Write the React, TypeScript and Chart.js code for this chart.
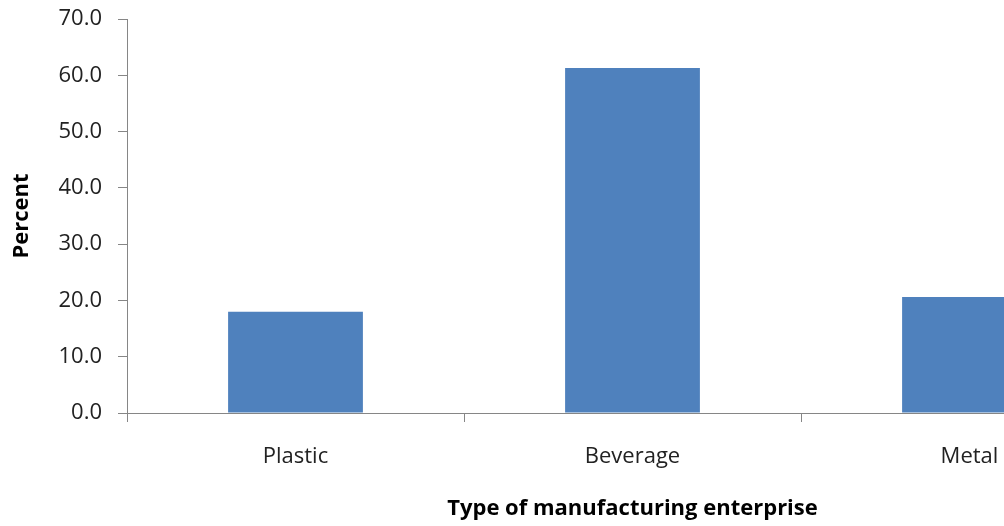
import React, { useEffect, useRef } from "react";
import { Chart, registerables } from "chart.js";

Chart.register(...registerables);

// Share of respondents by type of manufacturing enterprise (%)
const categories = ["Plastic", "Beverage", "Metal"];
const percentValues = [18.0, 61.3, 20.6];
const yTickMin = 0;
const yTickMax = 70;
const yTickStep = 10;

const AXIS_GREY = "#868686";
const BAR_BLUE = "#4F81BD";
const FONT = "'Open Sans', 'Liberation Sans', sans-serif";

export default function App() {
  const canvasRef = useRef<HTMLCanvasElement | null>(null);

  useEffect(() => {
    const canvas = canvasRef.current;
    if (!canvas) return;
    const chart = new Chart(canvas, {
      type: "bar",
      data: {
        labels: categories,
        datasets: [
          {
            label: "Percent",
            data: percentValues,
            backgroundColor: BAR_BLUE,
            borderWidth: 0,
            barPercentage: 0.4,
            categoryPercentage: 1.0,
          },
        ],
      },
      options: {
        animation: false,
        responsive: true,
        maintainAspectRatio: false,
        layout: { padding: { top: 0, left: 5, right: 2, bottom: 0 } },
        plugins: {
          legend: { display: false },
          tooltip: { enabled: false },
        },
        scales: {
          x: {
            offset: true,
            grid: {
              offset: true,
              drawOnChartArea: false,
              drawTicks: true,
              tickLength: 9,
              color: AXIS_GREY,
            },
            border: { color: AXIS_GREY, width: 1 },
            ticks: {
              color: "#222",
              font: { family: FONT, size: 22 },
              padding: 22,
              maxRotation: 0,
            },
            title: {
              display: true,
              text: "Type of manufacturing enterprise",
              color: "#000",
              font: { family: FONT, size: 22, weight: "bold" },
              padding: { top: 4, bottom: 4 },
            },
            afterFit: (scale: any) => {
              scale.height = 113;
            },
          },
          y: {
            min: yTickMin,
            max: yTickMax,
            grid: {
              drawOnChartArea: false,
              drawTicks: true,
              tickLength: 9,
              color: AXIS_GREY,
            },
            border: { color: AXIS_GREY, width: 1 },
            ticks: {
              stepSize: yTickStep,
              color: "#222",
              font: { family: FONT, size: 22 },
              padding: 16,
              callback: (v: any) => Number(v).toFixed(1),
            },
            title: {
              display: true,
              text: "Percent",
              color: "#000",
              font: { family: FONT, size: 22, weight: "bold" },
              padding: { top: 4, bottom: 4 },
            },
            afterFit: (scale: any) => {
              scale.width = 122;
              // keep the plot top where the 70.0 tick sits
              scale.paddingTop = 19;
            },
          },
        },
      },
    });
    return () => chart.destroy();
  }, []);

  return (
    <div
      style={{
        position: "absolute",
        left: 0,
        top: 0,
        width: 1004,
        height: 526,
        overflow: "hidden",
        background: "#fff",
      }}
    >
      <div style={{ position: "relative", width: 1140, height: 526 }}>
        <canvas ref={canvasRef} />
      </div>
    </div>
  );
}
